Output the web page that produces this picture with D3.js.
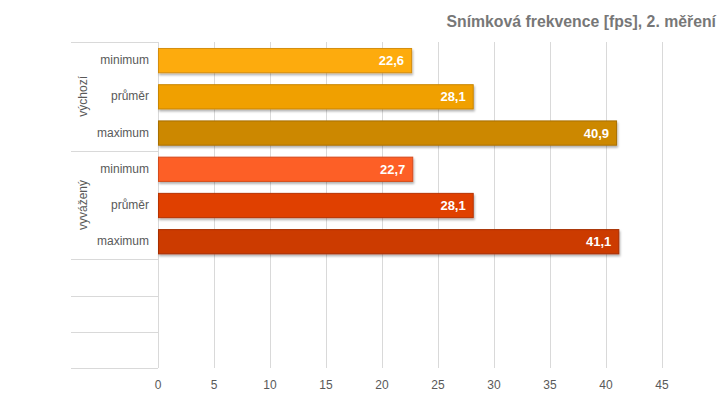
<!DOCTYPE html>
<html>
<head>
<meta charset="utf-8">
<script src="https://cdn.jsdelivr.net/npm/d3@7"></script>
<style>
  body { margin: 0; background: #fff; }
  text { font-family: "Liberation Sans", Arial, sans-serif; }
</style>
</head>
<body>
<div id="chart"></div>
<script>
var title = "Snímková frekvence [fps], 2. měření";
var groups = ["výchozí", "vyvážený"];
var measures = ["minimum", "průměr", "maximum"];
var vychozi = [22.6, 28.1, 40.9];
var vyvazeny = [22.7, 28.1, 41.1];
var xTicks = [0, 5, 10, 15, 20, 25, 30, 35, 40, 45];
var colors = [["#fdab10", "#f0a000", "#cc8800"], ["#fd5e25", "#e04004", "#cc3a00"]];
var strokes = [["#d58e08", "#c98600", "#a86f00"], ["#d54b1a", "#b83300", "#a62e00"]];
var emptyRows = 3;

var svg = d3.select("#chart").append("svg")
  .attr("width", 720).attr("height", 406);

var rows = [];
[vychozi, vyvazeny].forEach(function(vals, g) {
  vals.forEach(function(v, i) {
    rows.push({ group: g, measure: measures[i], value: v, key: g + "_" + i, m: i });
  });
});
var rowKeys = rows.map(function(d) { return d.key; });
for (var e = 0; e < emptyRows; e++) rowKeys.push("empty_" + e);

var plotLeft = 158, plotTop = 42, plotBottom = 368;
var x = d3.scaleLinear().domain([0, 45]).range([plotLeft, 662]);
var y = d3.scaleBand().domain(rowKeys).range([plotTop, plotBottom]).paddingInner(0.33).paddingOuter(0.165);
var step = y.step();

// vertical grid
svg.append("g").selectAll("line").data(xTicks).enter().append("line")
  .attr("x1", function(d) { return Math.round(x(d)) + 0.5; })
  .attr("x2", function(d) { return Math.round(x(d)) + 0.5; })
  .attr("y1", plotTop).attr("y2", plotBottom)
  .attr("stroke", "#d9d9d9").attr("stroke-width", 1);

// horizontal separators in the category area
var seps = [0, 3, 6, 7, 8, 9];
svg.append("g").selectAll("line").data(seps).enter().append("line")
  .attr("x1", 71).attr("x2", plotLeft)
  .attr("y1", function(d) { return Math.round(plotTop + d * step) + 0.5; })
  .attr("y2", function(d) { return Math.round(plotTop + d * step) + 0.5; })
  .attr("stroke", "#d9d9d9");

// x tick labels
svg.append("g").selectAll("text").data(xTicks).enter().append("text")
  .attr("x", function(d) { return x(d); })
  .attr("y", 389)
  .attr("text-anchor", "middle")
  .attr("font-size", 12)
  .attr("fill", "#595959")
  .text(function(d) { return d; });

// category labels
svg.append("g").selectAll("text").data(rows).enter().append("text")
  .attr("x", 149)
  .attr("y", function(d) { return y(d.key) + y.bandwidth() / 2 + 4; })
  .attr("text-anchor", "end")
  .attr("font-size", 12)
  .attr("fill", "#595959")
  .text(function(d) { return d.measure; });

// group labels
svg.append("g").selectAll("text").data(groups).enter().append("text")
  .attr("transform", function(d, i) {
    var cy = plotTop + (i * 3 + 1.5) * step;
    return "translate(87," + cy + ") rotate(-90)";
  })
  .attr("text-anchor", "middle")
  .attr("font-size", 12)
  .attr("fill", "#595959")
  .text(function(d) { return d; });

// shadow filter
var defs = svg.append("defs");
var f = defs.append("filter").attr("id", "sh").attr("x", "-5%").attr("y", "-20%").attr("width", "110%").attr("height", "160%");
f.append("feDropShadow").attr("dx", 1).attr("dy", 2).attr("stdDeviation", 1.2).attr("flood-color", "#000").attr("flood-opacity", 0.3);

// bars
svg.append("g").selectAll("rect").data(rows).enter().append("rect")
  .attr("x", x(0) + 0.5)
  .attr("y", function(d) { return y(d.key) + 0.5; })
  .attr("width", function(d) { return x(d.value) - x(0); })
  .attr("height", y.bandwidth())
  .attr("fill", function(d) { return colors[d.group][d.m]; })
  .attr("stroke", function(d) { return strokes[d.group][d.m]; })
  .attr("filter", "url(#sh)");

// value labels
svg.append("g").selectAll("text").data(rows).enter().append("text")
  .attr("x", function(d) { return x(d.value) - 7; })
  .attr("y", function(d) { return y(d.key) + y.bandwidth() / 2 + 5; })
  .attr("text-anchor", "end")
  .attr("font-size", 13)
  .attr("font-weight", "bold")
  .attr("fill", "#fff")
  .text(function(d) { return String(d.value.toFixed(1)).replace(".", ","); });

// title
svg.append("text")
  .attr("x", 716).attr("y", 27)
  .attr("text-anchor", "end")
  .attr("font-size", 15.8)
  .attr("font-weight", "bold")
  .attr("fill", "#777")
  .text(title);
</script>
</body>
</html>
